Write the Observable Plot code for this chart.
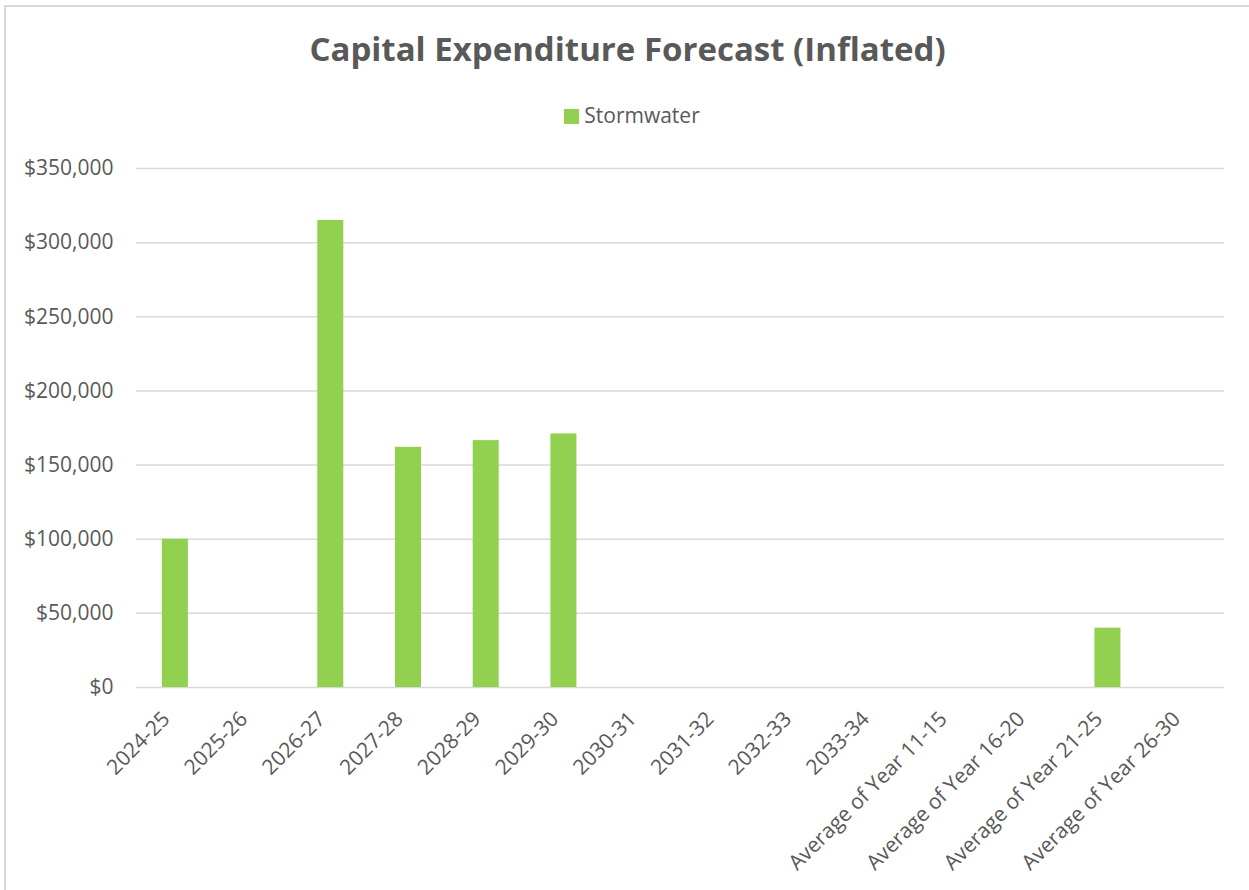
<!DOCTYPE html>
<html>
<head>
<meta charset="utf-8">
<script src="https://cdn.jsdelivr.net/npm/d3@7"></script>
<script src="https://cdn.jsdelivr.net/npm/@observablehq/plot@0.6"></script>
<style>
  body { margin: 0; background: #fff; font-family: "Open Sans", sans-serif; width: 1249px; height: 890px; overflow: hidden; position: relative; }
  #frame { position: absolute; left: 4px; top: 5px; width: 1270px; height: 910px; border: 2px solid #d9d9d9; box-sizing: border-box; }
  #title { position: absolute; top: 26px; left: 0; width: 1255px; text-align: center; font-weight: bold; font-size: 33px; color: #595959; }
  #legend { position: absolute; top: 101px; left: 0; width: 1264px; text-align: center; font-size: 21px; color: #595959; }
  #legend .sw { display: inline-block; width: 15px; height: 15px; background: #92d050; margin-right: 5px; vertical-align: -1px; }
  #chart { position: absolute; top: 130px; left: 0; }
</style>
</head>
<body>
<div id="frame"></div>
<div id="title">Capital Expenditure Forecast (Inflated)</div>
<div id="legend"><span class="sw"></span>Stormwater</div>
<div id="chart"></div>
<script>
const categories = ["2024-25","2025-26","2026-27","2027-28","2028-29","2029-30","2030-31","2031-32","2032-33","2033-34","Average of Year 11-15","Average of Year 16-20","Average of Year 21-25","Average of Year 26-30"];
const stormwater = [100000, 0, 315000, 162000, 166500, 171000, 0, 0, 0, 0, 0, 0, 40000, 0];
const yTicks = [0, 50000, 100000, 150000, 200000, 250000, 300000, 350000];

const data = categories.map((c, i) => ({category: c, value: stormwater[i]}));
const fmt = d => "$" + d3.format(",")(d);

const chart = Plot.plot({
  width: 1249,
  height: 760,
  marginTop: 38,
  marginBottom: 203,
  marginLeft: 136,
  marginRight: 25,
  style: { fontFamily: "Open Sans, sans-serif", fontSize: "21px", color: "#595959", background: "transparent", overflow: "visible" },
  x: { domain: categories, paddingInner: 0.665, paddingOuter: 0.3325, round: false, axis: null, label: null },
  y: { domain: [0, 350000], axis: null, label: null },
  marks: [
    Plot.gridY(yTicks, { stroke: "#d9d9d9", strokeOpacity: 1, strokeWidth: 1.5 }),
    Plot.barY(data.filter(d => d.value > 0), { x: "category", y: "value", fill: "#92d050" }),
    Plot.axisY(yTicks, { tickSize: 0, tickPadding: 23, tickFormat: fmt, fontSize: 21, fill: "#595959", label: null }),
    Plot.axisX({ tickRotate: -45, tickSize: 0, tickPadding: 24, dx: -9, dy: 4, fontSize: 21, fill: "#595959", label: null })
  ]
});
document.getElementById("chart").appendChild(chart);
</script>
</body>
</html>
